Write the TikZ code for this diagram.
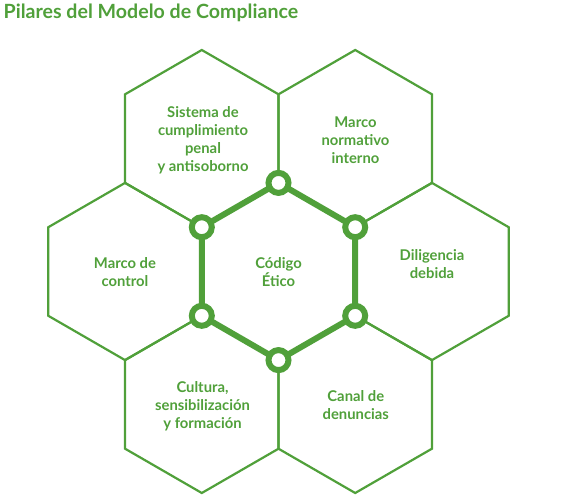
\documentclass[tikz,border=0pt]{standalone}
\usepackage{fontspec}
\setmainfont{Lato}
\definecolor{pgreen}{RGB}{80,160,58}
\tikzset{
  hexline/.style={draw=pgreen, line width=2.2pt, line join=miter},
  coreline/.style={draw=pgreen, line width=6pt},
  ring/.style={circle, draw=pgreen, line width=6pt, fill=white, minimum size=20pt, inner sep=0pt},
  pillar/.style={text=pgreen, align=center, font=\bfseries\fontsize{14.8}{18}\selectfont, inner sep=0pt},
  titletext/.style={text=pgreen, font=\bfseries\fontsize{19.6}{22}\selectfont, inner sep=0pt, anchor=base west}
}
\begin{document}
\begin{tikzpicture}[x=1pt,y=-1pt]
\useasboundingbox (0,0) rectangle (568,503);
\node[titletext] (title) at (3.5,18.5) {Pilares del Modelo de Compliance};
% outer hexagons
\foreach \cx/\cy in {201.8/138.6, 355.2/138.6, 125.05/271.5, 431.95/271.5, 201.8/404.4, 355.2/404.4}{
  \draw[hexline] (\cx,\cy-88.6) -- (\cx+76.73,\cy-44.3) -- (\cx+76.73,\cy+44.3) -- (\cx,\cy+88.6) -- (\cx-76.73,\cy+44.3) -- (\cx-76.73,\cy-44.3) -- cycle;
}
% central hexagon vertices
\coordinate (p1) at (278.5,182.9);
\coordinate (p2) at (355.2,227.2);
\coordinate (p3) at (355.2,315.8);
\coordinate (p4) at (278.5,360.1);
\coordinate (p5) at (201.8,315.8);
\coordinate (p6) at (201.8,227.2);
\draw[coreline] (p1) -- (p2) -- (p3) -- (p4) -- (p5) -- (p6) -- cycle;
\node[ring] (c1) at (p1) {};
\node[ring] (c2) at (p2) {};
\node[ring] (c3) at (p3) {};
\node[ring] (c4) at (p4) {};
\node[ring] (c5) at (p5) {};
\node[ring] (c6) at (p6) {};
% labels
\node[pillar] (core) at (278.5,272) {Código\\Ético};
\node[pillar] (sist) at (203,140) {Sistema de\\cumplimiento\\penal\\y antisoborno};
\node[pillar] (marco) at (355.5,140) {Marco\\normativo\\interno};
\node[pillar] (control) at (125,272.5) {Marco de\\control};
\node[pillar] (dilig) at (432,264) {Diligencia\\debida};
\node[pillar] (cult) at (202.5,406) {Cultura,\\sensibilización\\y formación};
\node[pillar] (canal) at (355.8,405.5) {Canal de\\denuncias};
\end{tikzpicture}
\end{document}
